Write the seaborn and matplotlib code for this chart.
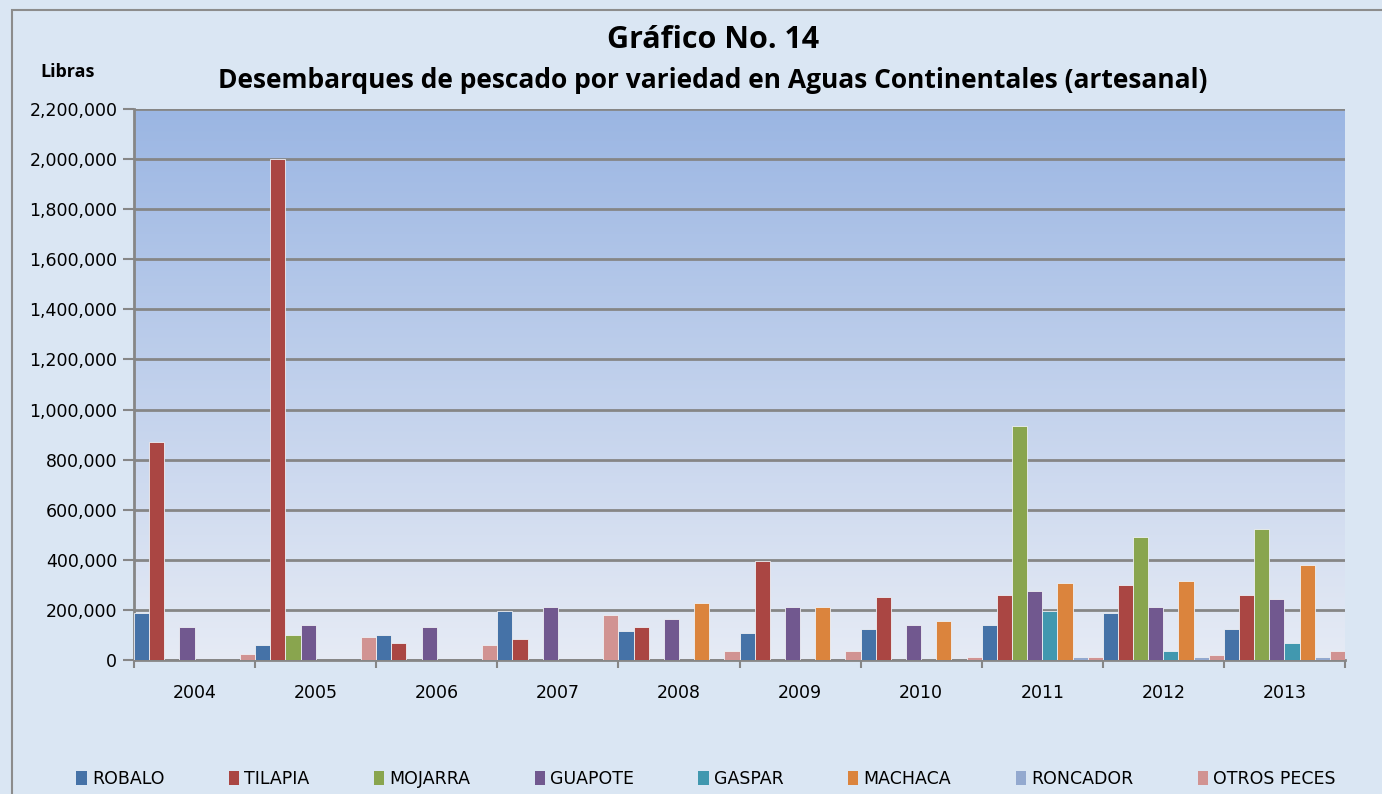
import numpy as np
import pandas as pd
import matplotlib
matplotlib.use("Agg")
import matplotlib.pyplot as plt
import seaborn as sns
from matplotlib.patches import Rectangle
from matplotlib.ticker import FuncFormatter

# data (libras)
years = ['2004', '2005', '2006', '2007', '2008', '2009', '2010', '2011', '2012', '2013']
especies = ['ROBALO', 'TILAPIA', 'MOJARRA', 'GUAPOTE', 'GASPAR', 'MACHACA', 'RONCADOR', 'OTROS PECES']

robalo = [189000, 60000, 100000, 197000, 116000, 108000, 124000, 140000, 188000, 124000]
tilapia = [872000, 2000000, 69000, 84000, 132000, 395000, 251000, 259000, 299000, 259000]
mojarra = [0, 100000, 0, 0, 0, 0, 0, 935000, 491000, 523000]
guapote = [132000, 140000, 132000, 212000, 164000, 212000, 140000, 275000, 212000, 243000]
gaspar = [0, 0, 0, 0, 0, 0, 0, 197000, 37000, 68000]
machaca = [0, 0, 0, 0, 228000, 212000, 156000, 307000, 315000, 379000]
roncador = [0, 0, 0, 0, 0, 0, 0, 10000, 10000, 10000]
otros = [23000, 93000, 60000, 180000, 37000, 37000, 13000, 13000, 21000, 37000]

colores = ['#4572a7', '#aa4643', '#89a54e', '#71588f', '#4198af', '#db843d', '#93a9cf', '#d19392']

series = [robalo, tilapia, mojarra, guapote, gaspar, machaca, roncador, otros]
rows = []
for esp, vals in zip(especies, series):
    for y, v in zip(years, vals):
        rows.append({'year': y, 'especie': esp, 'libras': v})
df = pd.DataFrame(rows)

bg = '#dae6f3'
fig = plt.figure(figsize=(13.82, 7.94), dpi=100, facecolor=bg)
ax = fig.add_axes([134 / 1382, 1 - 660 / 794, (1345 - 134) / 1382, (660 - 109) / 794])

# gradient plot area
grad = np.linspace(0, 1, 256)[:, None]
cmap = matplotlib.colors.LinearSegmentedColormap.from_list('g', ['#e6ebf5', '#9bb6e3'])
ax.imshow(grad, extent=[0, 1, 0, 1], transform=ax.transAxes, origin='lower',
          aspect='auto', cmap=cmap, zorder=0)

sns.barplot(data=df, x='year', y='libras', hue='especie', order=years, hue_order=especies,
            palette=colores, saturation=1, width=1.0, gap=0, dodge=True,
            edgecolor='#eef0f4', linewidth=0.6, ax=ax, zorder=3, legend=True)

# zero bars: no outline
for p in ax.patches:
    if hasattr(p, 'get_height') and p.get_height() == 0:
        p.set_linewidth(0)

ax.set_xlim(-0.5, 9.5)
ax.set_ylim(0, 2200000)
ax.set_yticks(np.arange(0, 2200001, 200000))
ax.yaxis.set_major_formatter(FuncFormatter(lambda v, p: f'{int(v):,}'))
ax.yaxis.grid(True, color='#868686', linewidth=2)
ax.set_axisbelow(True)
for gl in ax.get_ygridlines():
    gl.set_zorder(1)

ax.set_xticks(np.arange(-0.5, 10, 1), minor=True)
ax.tick_params(axis='x', which='major', length=0, pad=17, labelsize=12.5)
ax.tick_params(axis='x', which='minor', length=6, width=1.5, color='#868686')
ax.tick_params(axis='y', length=8, width=1.5, color='#868686', labelsize=12.5, pad=4)
ax.set_xlabel('')
ax.set_ylabel('')
for s in ['top', 'right']:
    ax.spines[s].set_visible(False)
for s in ['left', 'bottom']:
    ax.spines[s].set_color('#868686')
    ax.spines[s].set_linewidth(2)

handles, labels = ax.get_legend_handles_labels()
ax.get_legend().remove()
fig.legend(handles, labels, loc='center', bbox_to_anchor=(0.5 + 15 / 1382, 1 - 779 / 794),
           ncol=8, frameon=False, fontsize=12.5, handlelength=0.6, handleheight=0.9,
           handletextpad=0.3, columnspacing=3.7)

fig.text(713 / 1382, 1 - 40 / 794, 'Gráfico No. 14', ha='center', va='center',
         fontsize=22, fontweight='bold', family='Open Sans')
fig.text(713 / 1382, 1 - 80 / 794,
         'Desembarques de pescado por variedad en Aguas Continentales (artesanal)',
         ha='center', va='center', fontsize=19, fontweight='bold', family='Open Sans')
fig.text(68 / 1382, 1 - 72 / 794, 'Libras', ha='center', va='center',
         fontsize=13, fontweight='bold', family='Open Sans')

fig.patches.append(Rectangle((12 / 1382, -0.01), 1.0, 1 - 10 / 794 + 0.01,
                             transform=fig.transFigure, fill=False,
                             edgecolor='#8c8c8c', linewidth=1.5))

fig.savefig('out.png', dpi=100, facecolor=bg)
